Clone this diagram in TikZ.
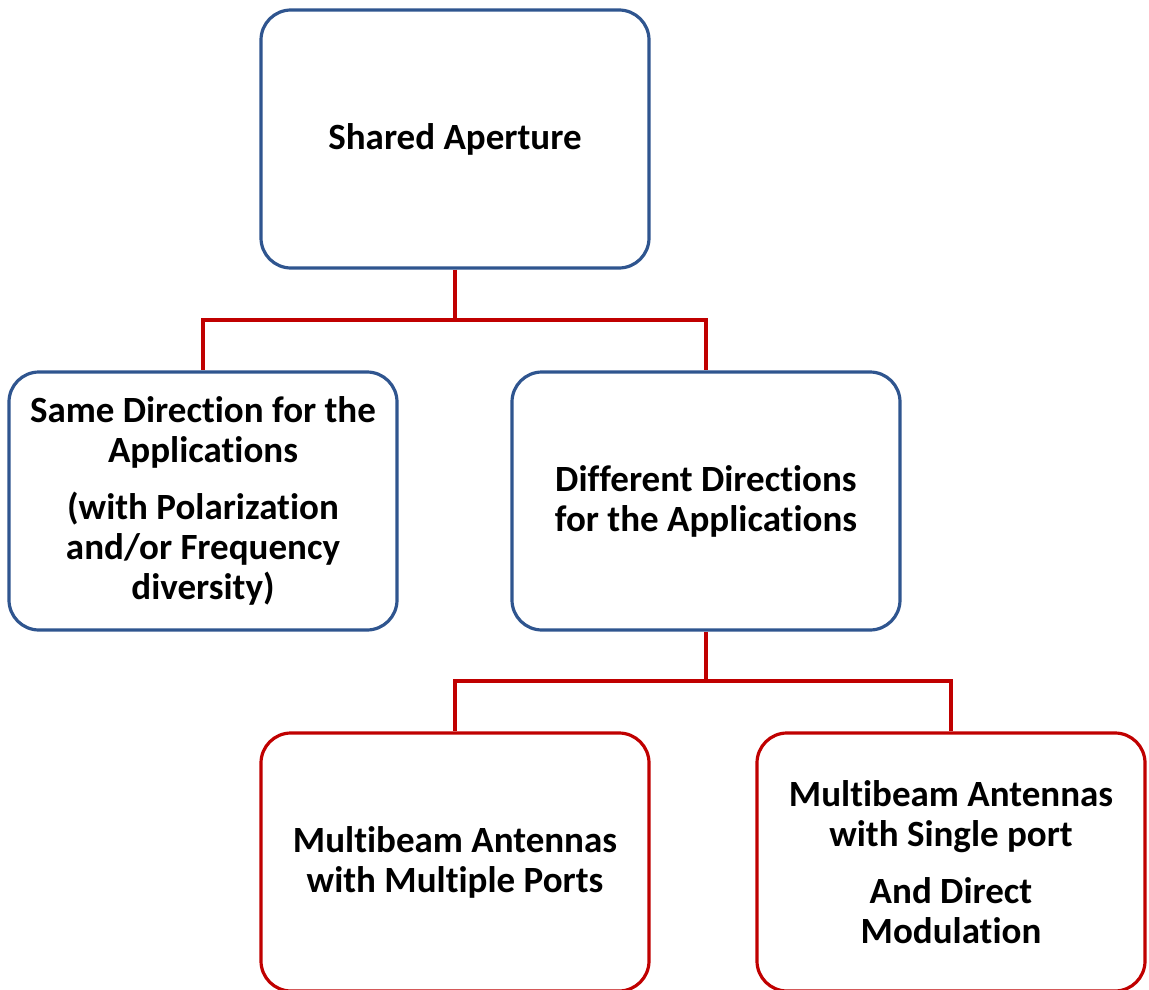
\documentclass[tikz,border=0pt]{standalone}
\usepackage{fontspec}
\setmainfont{Carlito}[Ligatures=CommonOff]
\definecolor{boxblue}{RGB}{47,85,143}
\definecolor{boxred}{RGB}{192,0,0}
\begin{document}
\begin{tikzpicture}[x=1pt,y=-1pt,
  box/.style={draw=#1,line width=3.2pt,rounded corners=30pt,fill=white,
    minimum width=388pt,minimum height=258pt,inner sep=0pt,align=center,
    font=\fontsize{37}{40}\selectfont\bfseries},
  conn/.style={draw=boxred,line width=3.2pt}]
\useasboundingbox (0,0) rectangle (1149,990);
\node[box=boxblue] (top) at (455,139) {Shared Aperture};
\node[box=boxblue] (left) at (203,501) {Same Direction for the\\Applications\\[17pt](with Polarization\\and/or Frequency\\diversity)};
\node[box=boxblue] (right) at (706,501) {Different Directions\\for the Applications};
\node[box=boxred] (bl) at (455,862) {Multibeam Antennas\\with Multiple Ports};
\node[box=boxred] (br) at (951,862) {Multibeam Antennas\\with Single port\\[17pt]And Direct\\Modulation};
\coordinate (j1) at (455,320);
\coordinate (j2) at (706,681);
\draw[conn] (top.south) -- (j1);
\draw[conn] (j1) -| (left.north);
\draw[conn] (j1) -| (right.north);
\draw[conn] (right.south) -- (j2);
\draw[conn] (j2) -| (bl.north);
\draw[conn] (j2) -| (br.north);
\end{tikzpicture}
\end{document}
